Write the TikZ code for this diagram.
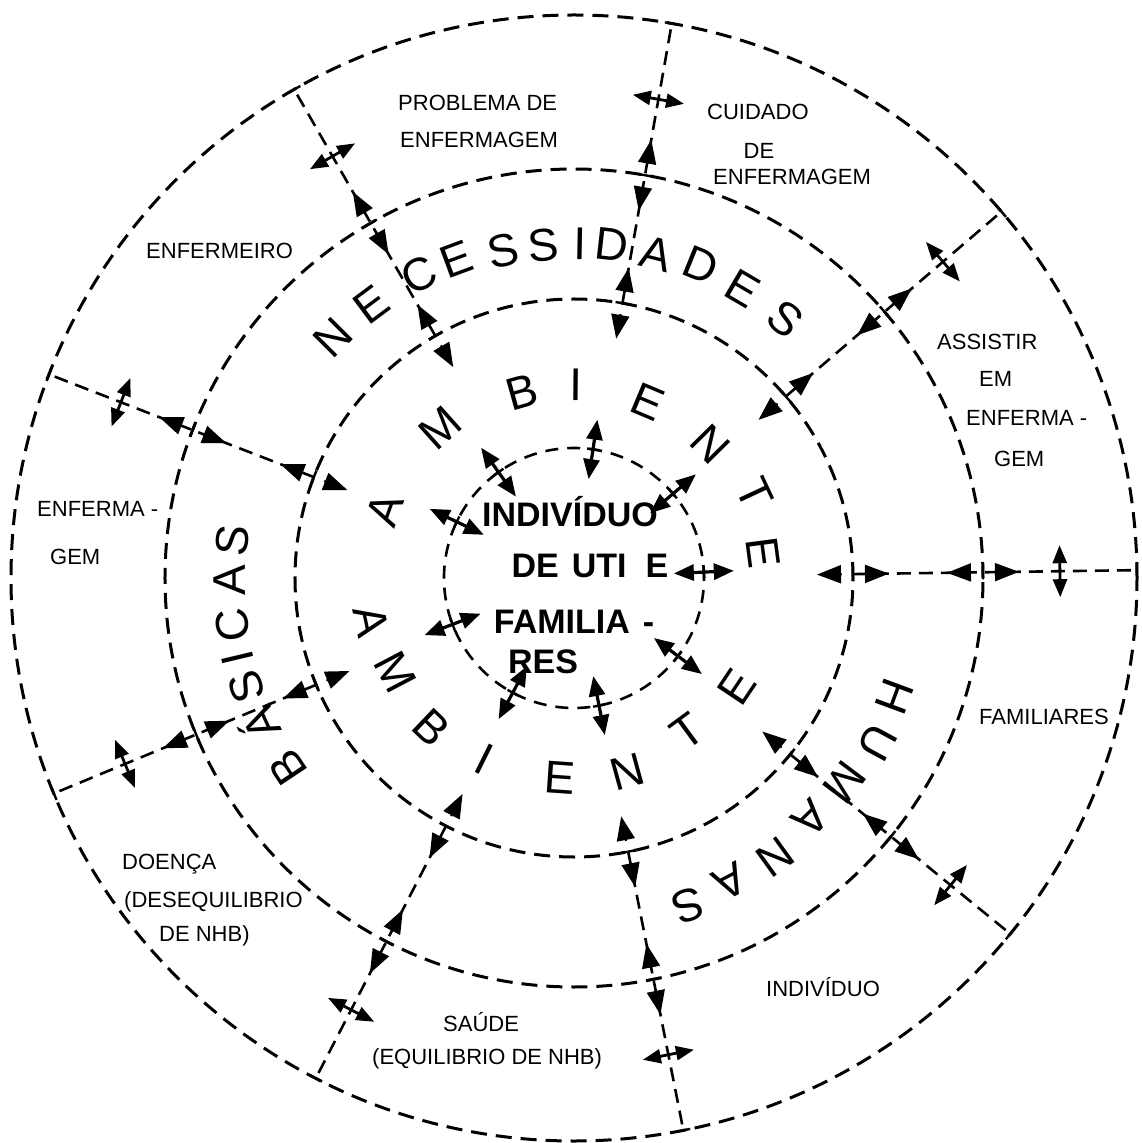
\documentclass[tikz,border=0pt]{standalone}
\usepackage{fontspec}
\setmainfont{Liberation Sans}
\usetikzlibrary{arrows.meta}
\begin{document}
\begin{tikzpicture}[x=1pt,y=1pt,
  circ/.style={line width=3pt, dash pattern=on 16pt off 9pt},
  incirc/.style={line width=2.6pt, dash pattern=on 13pt off 9pt},
  radial/.style={line width=2.6pt, dash pattern=on 14pt off 8pt},
  tickmark/.style={line width=2.4pt},
  xhead/.style={line width=2pt, -{Triangle[length=24pt,width=18pt]}},
  tanarrow/.style={line width=2.8pt, {Triangle[length=18pt,width=14pt]}-{Triangle[length=18pt,width=14pt]}},
  inarrow/.style={line width=3.2pt, {Triangle[length=20pt,width=16pt]}-{Triangle[length=20pt,width=16pt]}},
  lbl/.style={font=\fontsize{22}{26}\selectfont, inner sep=0pt, anchor=base west},
  ctr/.style={font=\bfseries\fontsize{34}{40}\selectfont, inner sep=0pt, anchor=base},
  ringletter/.style={font=\fontsize{46}{50}\selectfont, inner sep=0pt, anchor=center}
]
\fill[white] (-574,-565) rectangle (567,578);
\useasboundingbox (-574,-565) rectangle (567,578);
\coordinate (O) at (0,0);

% concentric circles
\draw[circ] (O) circle[radius=563];
\draw[circ] (O) circle[radius=409];
\draw[circ] (O) circle[radius=279];
\draw[incirc] (O) circle[radius=130];

% radial separators with arrows
\foreach \ang [count=\i] in {119.8,158.8,202.5,242.7,281.2,320.8,0.8,40.6,80.0} {
  \begin{scope}[rotate=\ang]
    \coordinate (rin\i) at (279,0);
    \coordinate (rout\i) at (563,0);
    \draw[radial] (rin\i) -- (rout\i);
    \foreach \R in {279,409,563} {\draw[tickmark] (\R,-7) -- (\R,7);}
    \foreach \R in {279,409} {
      \draw[xhead] (\R+11,0) -- (\R+36,0);
      \draw[xhead] (\R-11,0) -- (\R-36,0);
    }
    \coordinate (ta\i) at (486,-26);
    \coordinate (tb\i) at (486,26);
    \draw[tanarrow] (ta\i) -- (tb\i);
  \end{scope}
}

% double arrows across the inner circle
\foreach \ang [count=\i] in {125.5,81.6,40.4,154.4,2.6,200.9,241.9,281.1,323.1} {
  \begin{scope}[rotate=\ang]
    \coordinate (ia\i) at (100,0);
    \coordinate (ib\i) at (160,0);
    \draw[inarrow] (ia\i) -- (ib\i);
    \draw[tickmark] (130,-6) -- (130,6);
  \end{scope}
}

% ring lettering
\foreach \ang/\rr/\ch [count=\i] in {135.1/340/N,126.6/340/E,117.1/340/C,110.3/340/E,102.2/335/S,95.3/334/S,89/334/I,83.5/336/D,75.8/334/A,67.9/338/D,59.7/335/E,50.8/334/S}
  \node[ringletter, rotate=\ang-90] (nec\i) at (\ang:\rr) {\ch};
\foreach \ang/\rr/\ch [count=\i] in {213.6/343/B,204.9/348/Á,198.4/345/S,193.4/346/I,187.8/345/C,180.3/344/A,173.7/344/S}
  \node[ringletter, rotate=\ang-90] (bas\i) at (\ang:\rr) {\ch};
\foreach \ang/\rr/\ch [count=\i] in {-20.3/342/H,-28.4/345/U,-37/339/M,-45.5/337/A,-54.2/344/N,-62.8/341/A,-70.8/347/S}
  \node[ringletter, rotate=\ang-90] (hum\i) at (\ang:\rr) {\ch};
\foreach \ang/\rr/\ch [count=\i] in {160.2/201/A,131.8/201/M,105.6/193/B,89.4/193/I,67.2/191/E,44.6/191/N,25/199/T,7.5/191/E}
  \node[ringletter, rotate=\ang-90] (amba\i) at (\ang:\rr) {\ch};
\foreach \ang/\rr/\ch [count=\i] in {192/207/A,207.7/202/M,226.4/206/B,243.6/202/I,266/200/E,285.3/201/N,306.3/191/T,326.2/196/E}
  \node[ringletter, rotate=\ang+90] (ambb\i) at (\ang:\rr) {\ch};

% centre text
\node[ctr] (c1) at (-4,51) {INDIVÍDUO};
\node[ctr] (c2) at (16,1) {DE\hspace{13pt}UTI\hspace{19pt}E};
\node[ctr] (c3) at (0,-55) {FAMILIA\hspace{13pt}-};
\node[ctr] (c4) at (-31,-95) {RES};

% outer labels
\node[lbl] (l1) at (-176,467) {PROBLEMA DE};
\node[lbl] (l2) at (-174,430) {ENFERMAGEM};
\node[lbl] (l3) at (133,458) {CUIDADO};
\node[lbl, anchor=base] (l4) at (185,419) {DE};
\node[lbl] (l5) at (139,393) {ENFERMAGEM};
\node[lbl] (l6) at (-428,319) {ENFERMEIRO};
\node[lbl] (l7) at (363,228) {ASSISTIR};
\node[lbl] (l8) at (405,191) {EM};
\node[lbl] (l9) at (392,152) {ENFERMA -};
\node[lbl] (l10) at (420,111) {GEM};
\node[lbl] (l11) at (-537,61) {ENFERMA -};
\node[lbl] (l12) at (-524,13) {GEM};
\node[lbl] (l13) at (405,-146) {FAMILIARES};
\node[lbl] (l14) at (192,-418) {INDIVÍDUO};
\node[lbl] (l15) at (-131,-453) {SAÚDE};
\node[lbl] (l16) at (-202,-486) {(EQUILIBRIO DE NHB)};
\node[lbl] (l17) at (-452,-291) {DOENÇA};
\node[lbl] (l18) at (-450,-329) {(DESEQUILIBRIO};
\node[lbl] (l19) at (-415,-363) {DE NHB)};
\end{tikzpicture}
\end{document}
